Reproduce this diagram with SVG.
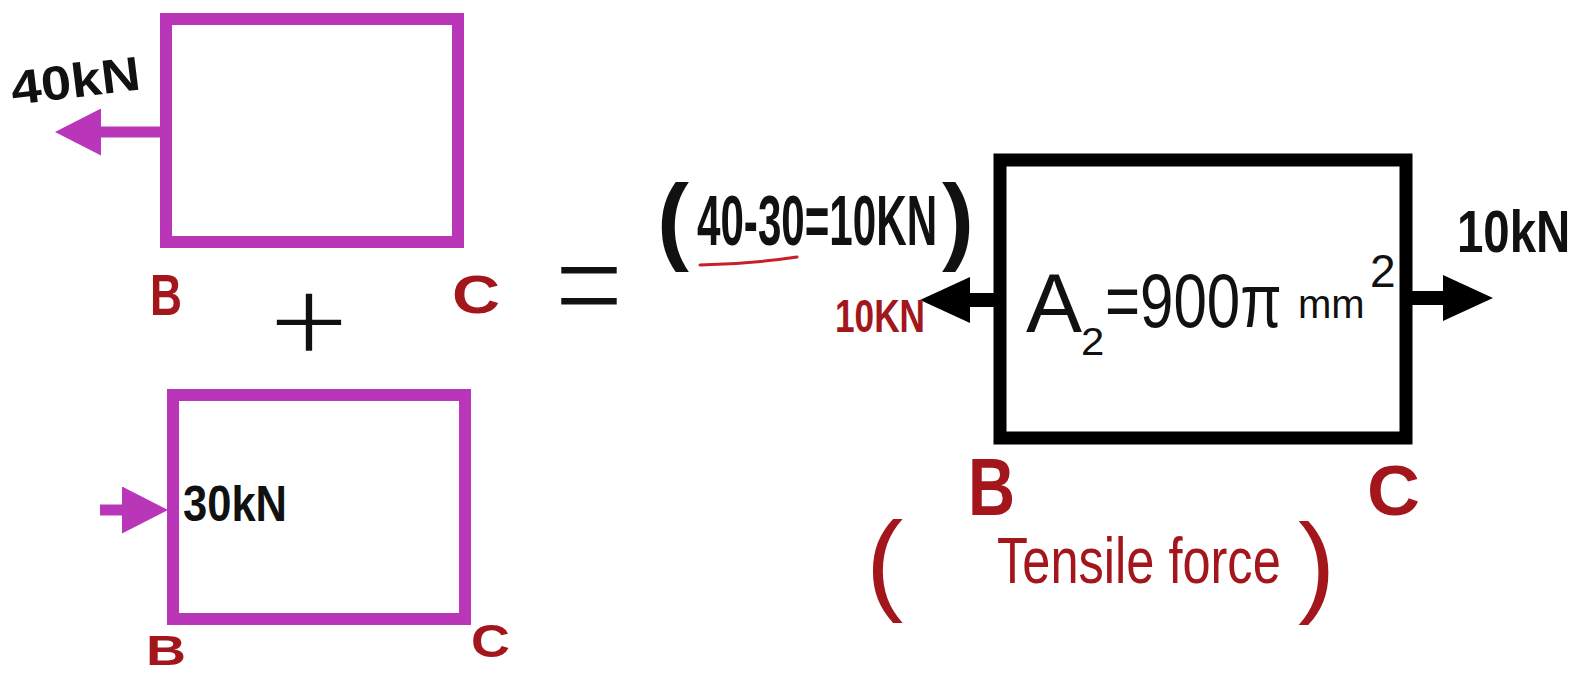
<svg xmlns="http://www.w3.org/2000/svg" width="1580" height="674" viewBox="0 0 1580 674">
<style>
.bg{fill:#ffffff}
.mag{fill:none;stroke:#B936B9;stroke-width:12}
.blk{fill:none;stroke:#000000;stroke-width:13}
.magl{fill:none;stroke:#B936B9;stroke-width:11}
.blkl{fill:none;stroke:#000000;stroke-width:14}
.t{font-family:"Liberation Sans",Arial,sans-serif}
.b{font-weight:bold}
.ink{fill:#111111}
.red{fill:#A3161C}
.thin{font-family:Inter,"Liberation Sans",sans-serif;font-weight:200;fill:#111111}
</style>
<defs>
<marker id="mh" markerUnits="userSpaceOnUse" markerWidth="46" markerHeight="47" viewBox="0 0 46 47" refX="0" refY="23.5" orient="auto"><path d="M0,0 L46,23.5 L0,47 Z" fill="#B936B9"/></marker>
<marker id="bh" markerUnits="userSpaceOnUse" markerWidth="50" markerHeight="46" viewBox="0 0 50 46" refX="0" refY="23" orient="auto"><path d="M0,0 L50,23 L0,46 Z" fill="#000000"/></marker>
</defs>
<rect class="bg" x="0" y="0" width="1580" height="674"/>

<g id="connectors">
<path class="magl" d="M160,132 H101" marker-end="url(#mh)"/>
<path class="magl" d="M100,510 H122" marker-end="url(#mh)"/>
<path class="blkl" d="M1000,300 H970" marker-end="url(#bh)"/>
<path class="blkl" d="M1406,298 H1443" marker-end="url(#bh)"/>
</g>

<g id="node-top-bc">
<rect class="mag" x="166" y="19" width="292" height="223"/>
<text class="t b ink" x="13" y="105" font-size="48" textLength="130" lengthAdjust="spacingAndGlyphs" transform="rotate(-7 13 105)">40kN</text>
<text class="t b red" x="150" y="315" font-size="58" textLength="32" lengthAdjust="spacingAndGlyphs">B</text>
<text class="t b red" x="452" y="313" font-size="53" textLength="48" lengthAdjust="spacingAndGlyphs">C</text>
</g>

<g id="plus">
<text class="thin" x="261" y="360" font-size="132" textLength="96" lengthAdjust="spacingAndGlyphs">+</text>
</g>

<g id="node-bottom-bc">
<rect class="mag" x="173" y="395" width="292" height="224"/>
<text class="t b ink" x="183" y="521" font-size="50" textLength="104" lengthAdjust="spacingAndGlyphs">30kN</text>
<text class="t b red" x="146" y="665" font-size="42" textLength="40" lengthAdjust="spacingAndGlyphs">B</text>
<text class="t b red" x="471" y="657" font-size="47" textLength="39" lengthAdjust="spacingAndGlyphs">C</text>
</g>

<g id="equals">
<text class="thin" x="541" y="330" font-size="156" textLength="96" lengthAdjust="spacingAndGlyphs">=</text>
</g>

<g id="net-force">
<text class="t b ink" x="657" y="252" font-size="96">(</text>
<text class="t b ink" x="0" y="0" font-size="70" transform="translate(697 245) scale(0.602 1)">40-30=10KN</text>
<text class="t b ink" x="942" y="252" font-size="96">)</text>
<path d="M700,265 Q750,264 797,257" fill="none" stroke="#C8202A" stroke-width="3" stroke-linecap="round"/>
<text class="t b red" x="835" y="332" font-size="46" textLength="90" lengthAdjust="spacingAndGlyphs">10KN</text>
</g>

<g id="node-bc-result">
<rect class="blk" x="1000" y="160" width="406" height="278"/>
<text class="t ink" x="1026" y="332" font-size="84">A</text>
<text class="t ink" x="0" y="0" font-size="38" transform="translate(1081 355) scale(1.1 1)">2</text>
<text class="t ink" x="0" y="0" font-size="76" transform="translate(1105 327) scale(0.79 1)">=900π</text>
<text class="t ink" x="1298" y="318" font-size="40">mm</text>
<text class="t ink" x="1370" y="287" font-size="46">2</text>
<text class="t b ink" x="0" y="0" font-size="60" transform="translate(1457 252) scale(0.79 1)">10kN</text>
<text class="t b red" x="968" y="515" font-size="81" textLength="47" lengthAdjust="spacingAndGlyphs">B</text>
<text class="t b red" x="1367" y="515" font-size="70" textLength="53" lengthAdjust="spacingAndGlyphs">C</text>
<text class="t red" x="866" y="600" font-size="112">(</text>
<text class="t red" x="0" y="0" font-size="64" transform="translate(997 583) scale(0.79 1)">Tensile force</text>
<text class="t red" x="1298" y="602" font-size="112">)</text>
</g>
</svg>
